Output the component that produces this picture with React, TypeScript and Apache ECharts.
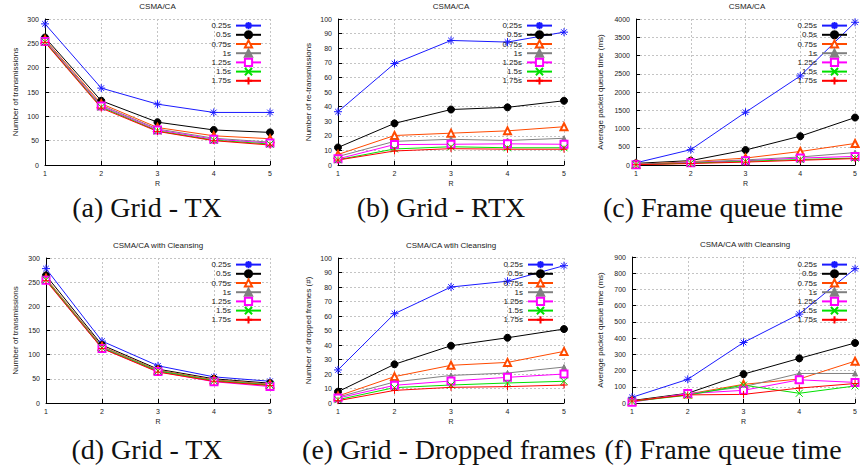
import React, { useEffect, useRef } from "react";
import * as echarts from "echarts";

const R = ["1", "2", "3", "4", "5"];
const seriesNames = ["0.25s", "0.5s", "0.75s", "1s", "1.25s", "1.5s", "1.75s"];

// (a) Grid - TX, CSMA/CA
const gridTx = [
  [290, 158, 125, 108, 108],
  [262, 132, 88, 72, 67],
  [258, 126, 77, 60, 54],
  [256, 123, 74, 55, 47],
  [254, 121, 72, 53, 45],
  [253, 119, 70, 51, 43],
  [252, 117, 69, 50, 41],
];
// (b) Grid - RTX, CSMA/CA
const gridRtx = [
  [36.5, 69.5, 85.3, 84.2, 91],
  [12, 28.5, 38, 39.5, 44],
  [7.2, 20.2, 21.8, 23.4, 26.2],
  [5.8, 16.2, 17.6, 16.8, 18.3],
  [4.2, 14, 14.2, 14.5, 14.2],
  [3.6, 11, 12.5, 11.8, 11.8],
  [3.4, 9.6, 11.2, 10.8, 10.8],
];
// (c) Frame queue time, CSMA/CA
const queueTime = [
  [60, 420, 1445, 2440, 3910],
  [45, 120, 410, 790, 1300],
  [20, 90, 190, 370, 590],
  [15, 75, 140, 220, 340],
  [10, 60, 115, 190, 235],
  [10, 50, 100, 150, 190],
  [8, 40, 80, 130, 175],
];
// (d) Grid - TX, with cleansing
const cleansingTx = [
  [278, 128, 77, 54, 45],
  [264, 120, 70, 50, 41],
  [258, 117, 68, 48, 39],
  [256, 116, 67, 47, 38],
  [254, 113, 65, 44, 34],
  [255, 114, 66, 46, 37],
  [253, 113, 64, 45, 36],
];
// (e) Grid - Dropped frames, with cleansing
const droppedFrames = [
  [22.8, 61.6, 80, 84, 94.7],
  [7.8, 26.7, 39.5, 45, 51],
  [4.8, 18.2, 26, 28, 35.6],
  [4.1, 14.5, 19, 20.7, 24.8],
  [3.4, 12.2, 15.2, 17.7, 20],
  [2.3, 10.6, 12.4, 13.8, 15],
  [1.6, 8.7, 10.8, 11.3, 12.4],
];
// (f) Frame queue time, with cleansing
const cleansingQueue = [
  [35, 146, 373, 548, 828],
  [15, 60, 178, 275, 370],
  [12, 55, 115, 148, 258],
  [10, 55, 100, 182, 182],
  [5, 58, 78, 143, 127],
  [10, 48, 110, 60, 105],
  [12, 50, 53, 92, 120],
];

const panelTitles = [
  "CSMA/CA",
  "CSMA/CA",
  "CSMA/CA",
  "CSMA/CA with Cleansing",
  "CSMA/CA wtih Cleansing",
  "CSMA/CA with Cleansing",
];
const yNames = [
  "Number of transmissions",
  "Number of re-transmissions",
  "Average packet queue time (ms)",
  "Number of transmissions",
  "Number of dropped frames (#)",
  "Average packet queue time (ms)",
];
const yMax = [300, 100, 4000, 300, 100, 900];
const yStep = [50, 10, 500, 50, 10, 100];
const captions = [
  "(a) Grid - TX",
  "(b) Grid - RTX",
  "(c) Frame queue time",
  "(d) Grid - TX",
  "(e) Grid - Dropped frames",
  "(f) Frame queue time",
];
const panelData = [gridTx, gridRtx, queueTime, cleansingTx, droppedFrames, cleansingQueue];

// layout (pixels)
const grids = [
  { left: 45, top: 19, width: 225, height: 146 },
  { left: 338, top: 19, width: 226, height: 146 },
  { left: 636, top: 19, width: 222, height: 146 },
  { left: 46, top: 258, width: 224, height: 145 },
  { left: 338, top: 258, width: 226, height: 145 },
  { left: 632, top: 257, width: 226, height: 146 },
];
const yNameGaps = [26, 26, 32, 27, 26, 28];
const legendPos = [
  { right: 598, top: 21 },
  { right: 307, top: 21 },
  { right: 12, top: 21 },
  { right: 598, top: 260 },
  { right: 306, top: 260 },
  { right: 12, top: 260 },
];
const captionPos = [
  { x: 147, y: 207 },
  { x: 441, y: 207 },
  { x: 723, y: 207 },
  { x: 147, y: 449 },
  { x: 449, y: 449 },
  { x: 723, y: 449 },
];

const colors = ["#1a1aff", "#000000", "#ff4a00", "#808080", "#ff00ff", "#00e000", "#ff0000"];
const asterisk = "path://M0,5L10,5M5,0L5,10M1.5,1.5L8.5,8.5M8.5,1.5L1.5,8.5";
const cross = "path://M0,0L10,10M10,0L0,10";
const plus = "path://M0,5L10,5M5,0L5,10";
const symbols = [asterisk, "circle", "emptyTriangle", "triangle", "emptyRect", cross, plus];
const symbolSizes = [8, 7, 7, 5, 7, 7, 7];

const SANS = "Liberation Sans";
const SERIF = "Liberation Serif";

export default function App() {
  const ref = useRef<HTMLDivElement>(null);
  useEffect(() => {
    if (!ref.current) return;
    const chart = echarts.init(ref.current, undefined, { renderer: "svg" });
    const gridLine = { color: "#c4c4c4", width: 1, type: [2, 2] as any };
    const option: any = {
      animation: false,
      backgroundColor: "#fff",
      grid: grids.map((g) => ({ ...g, containLabel: false })),
      xAxis: grids.map((_, i) => ({
        type: "category",
        gridIndex: i,
        data: R,
        boundaryGap: false,
        axisLine: { lineStyle: { color: "#000", width: 1 } },
        axisTick: { inside: true, length: 4, lineStyle: { color: "#000" } },
        axisLabel: { fontSize: 7, color: "#222", margin: 5, fontFamily: SANS },
        splitLine: { show: true, lineStyle: gridLine },
        name: "R",
        nameLocation: "middle",
        nameGap: 15,
        nameTextStyle: { fontSize: 7, color: "#222", fontFamily: SANS },
      })),
      yAxis: grids.map((_, i) => ({
        type: "value",
        gridIndex: i,
        min: 0,
        max: yMax[i],
        interval: yStep[i],
        axisLine: { show: true, lineStyle: { color: "#000", width: 1 } },
        axisTick: { show: true, inside: true, length: 4, lineStyle: { color: "#000" } },
        axisLabel: {
          fontSize: 7,
          color: "#222",
          margin: 6,
          fontFamily: SANS,
          formatter: (v: number) => String(v),
        },
        splitLine: { show: true, lineStyle: gridLine },
        name: yNames[i],
        nameLocation: "middle",
        nameGap: yNameGaps[i],
        nameTextStyle: { fontSize: 8, color: "#222", fontFamily: SANS },
      })),
      legend: grids.map((_, i) => ({
        orient: "vertical",
        align: "right",
        ...legendPos[i],
        padding: 0,
        itemWidth: 25,
        itemHeight: 9,
        itemGap: 0,
        selectedMode: false,
        data: seriesNames,
        textStyle: { fontSize: 8, color: "#222", fontFamily: SANS, lineHeight: 9 },
      })),
      series: panelData.flatMap((vals, i) =>
        vals.map((v, s) => ({
          type: "line",
          name: seriesNames[s],
          xAxisIndex: i,
          yAxisIndex: i,
          data: v,
          symbol: symbols[s],
          symbolSize: symbolSizes[s],
          showAllSymbol: true,
          lineStyle: { color: colors[s], width: 1 },
          itemStyle: { color: colors[s], borderColor: colors[s], borderWidth: 1 },
          emphasis: { disabled: true },
          silent: true,
        }))
      ),
      graphic: [
        ...grids.map((g, i) => ({
          type: "text",
          x: g.left + g.width / 2,
          y: g.top - 13,
          style: {
            text: panelTitles[i],
            fill: "#222",
            fontSize: 8,
            fontFamily: SANS,
            align: "center",
            verticalAlign: "middle",
          },
        })),
        ...captionPos.map((c, i) => ({
          type: "text",
          x: c.x,
          y: c.y,
          style: {
            text: captions[i],
            fill: "#111",
            fontSize: 28,
            fontFamily: SERIF,
            align: "center",
            verticalAlign: "middle",
          },
        })),
      ],
    };
    chart.setOption(option);
    return () => chart.dispose();
  }, []);
  return (
    <div
      ref={ref}
      style={{ position: "fixed", left: 0, top: 0, width: 860, height: 471, background: "#fff" }}
    />
  );
}
